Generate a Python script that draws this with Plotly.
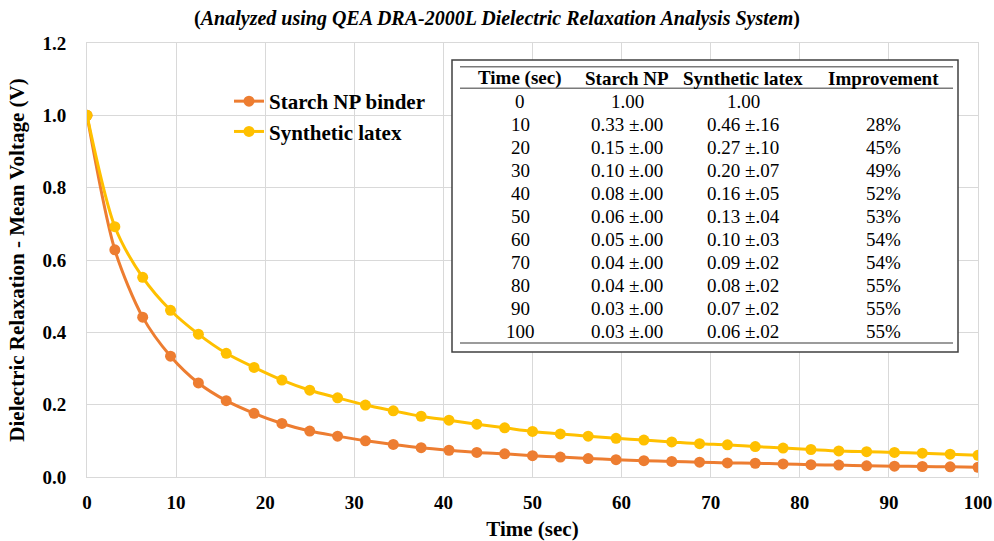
import plotly.graph_objects as go

# ---------------- data ----------------
time_s = [i * 100 / 32 for i in range(33)]
starch_np = [1.0, 0.628, 0.442, 0.334, 0.260, 0.211, 0.176, 0.148, 0.127, 0.113, 0.100,
             0.090, 0.081, 0.074, 0.068, 0.064, 0.059, 0.055, 0.051, 0.048, 0.045,
             0.043, 0.041, 0.039, 0.038, 0.036, 0.034, 0.033, 0.031, 0.030, 0.029,
             0.028, 0.027]
synthetic_latex = [1.0, 0.692, 0.552, 0.461, 0.395, 0.342, 0.303, 0.268, 0.240, 0.219, 0.199,
                   0.183, 0.168, 0.157, 0.146, 0.136, 0.126, 0.119, 0.113, 0.107, 0.102,
                   0.097, 0.092, 0.089, 0.084, 0.080, 0.076, 0.072, 0.070, 0.068, 0.066,
                   0.063, 0.060]

table_header = ["Time (sec)", "Starch NP", "Synthetic latex", "Improvement"]
table_time = ["0", "10", "20", "30", "40", "50", "60", "70", "80", "90", "100"]
table_starch = ["1.00", "0.33 ±.00", "0.15 ±.00", "0.10 ±.00", "0.08 ±.00", "0.06 ±.00",
                "0.05 ±.00", "0.04 ±.00", "0.04 ±.00", "0.03 ±.00", "0.03 ±.00"]
table_latex = ["1.00", "0.46 ±.16", "0.27 ±.10", "0.20 ±.07", "0.16 ±.05", "0.13 ±.04",
               "0.10 ±.03", "0.09 ±.02", "0.08 ±.02", "0.07 ±.02", "0.06 ±.02"]
table_improvement = ["", "28%", "45%", "49%", "52%", "53%", "54%", "54%", "55%", "55%", "55%"]

x_ticks = list(range(0, 101, 10))
y_ticks = [0.0, 0.2, 0.4, 0.6, 0.8, 1.0, 1.2]

# ---------------- figure ----------------
SERIF = "Liberation Serif, Times New Roman, serif"
ORANGE = "#ED7D31"
YELLOW = "#FFC000"

W, H = 994, 541
L, R, T, B = 87, 16, 43, 64
PW, PH = W - L - R, H - T - B


def px(x):
    return (x - L) / PW


def py(y):
    return (H - B - y) / PH


fig = go.Figure()
fig.add_trace(go.Scatter(
    x=time_s, y=starch_np, name="<b>Starch NP binder</b>", mode="lines+markers",
    line=dict(color=ORANGE, width=3, shape="spline", smoothing=0.8),
    marker=dict(color=ORANGE, size=11)))
fig.add_trace(go.Scatter(
    x=time_s, y=synthetic_latex, name="<b>Synthetic latex</b>", mode="lines+markers",
    line=dict(color=YELLOW, width=3, shape="spline", smoothing=0.8),
    marker=dict(color=YELLOW, size=11)))

shapes = []
annotations = []

# table box
shapes.append(dict(type="rect", xref="paper", yref="paper",
                   x0=px(452), x1=px(958), y0=py(352), y1=py(60),
                   line=dict(color="#404040", width=1.5), fillcolor="white", layer="above"))
for yy in (66.7, 88.3, 343):
    shapes.append(dict(type="line", xref="paper", yref="paper",
                       x0=px(460), x1=px(953), y0=py(yy), y1=py(yy),
                       line=dict(color="#7a7a7a", width=1.5), layer="above"))

col_x = [520, 627, 743, 883]
for cx, txt in zip(col_x, table_header):
    annotations.append(dict(xref="paper", yref="paper", x=px(cx), y=py(78),
                            text="<b>" + txt + "</b>", showarrow=False,
                            xanchor="center", yanchor="middle",
                            font=dict(family=SERIF, size=19, color="black")))
columns = [table_time, table_starch, table_latex, table_improvement]
for ci, col in enumerate(columns):
    for ri, txt in enumerate(col):
        if not txt:
            continue
        annotations.append(dict(xref="paper", yref="paper", x=px(col_x[ci]),
                                y=py(101.7 + 23 * ri), text=txt, showarrow=False,
                                xanchor="center", yanchor="middle",
                                font=dict(family=SERIF, size=19, color="black")))

fig.update_layout(
    width=W, height=H,
    margin=dict(l=L, r=R, t=T, b=B, autoexpand=False),
    paper_bgcolor="white", plot_bgcolor="white",
    title=dict(text="<b>(<i>Analyzed using QEA DRA-2000L Dielectric Relaxation Analysis System</i>)</b>",
               x=0.5, xanchor="center", y=1 - 18 / H, yanchor="middle", yref="container",
               font=dict(family=SERIF, size=20, color="black")),
    legend=dict(x=px(229), y=py(81), xanchor="left", yanchor="top",
                font=dict(family=SERIF, size=21, color="black"),
                bgcolor="rgba(0,0,0,0)", tracegroupgap=0),
    shapes=shapes, annotations=annotations,
    font=dict(family=SERIF, color="black"),
)

fig.update_xaxes(
    range=[0, 100], tickvals=x_ticks, ticktext=[f"<b>{v}</b>" for v in x_ticks],
    showgrid=True, gridcolor="#d9d9d9", gridwidth=1,
    showline=True, linecolor="#d9d9d9", linewidth=1, mirror=True,
    zeroline=False, ticks="", ticklabelstandoff=8, automargin=False,
    tickfont=dict(family=SERIF, size=19, color="black"),
    title=dict(text="<b>Time (sec)</b>", font=dict(family=SERIF, size=21, color="black"), standoff=12),
)
fig.update_yaxes(
    range=[0, 1.2], tickvals=y_ticks, ticktext=[f"<b>{v:.1f}</b>" for v in y_ticks],
    showgrid=True, gridcolor="#d9d9d9", gridwidth=1,
    showline=True, linecolor="#d9d9d9", linewidth=1, mirror=True,
    zeroline=False, ticks="", ticklabelstandoff=16, automargin=False,
    tickfont=dict(family=SERIF, size=19, color="black"),
    title=dict(text="<b>Dielectric Relaxation - Mean Voltage (V)</b>",
               font=dict(family=SERIF, size=21, color="black"), standoff=12),
)

fig.write_html("out.html", config={"displayModeBar": False},
               post_script="document.body.style.margin='0';document.body.style.padding='0';")
